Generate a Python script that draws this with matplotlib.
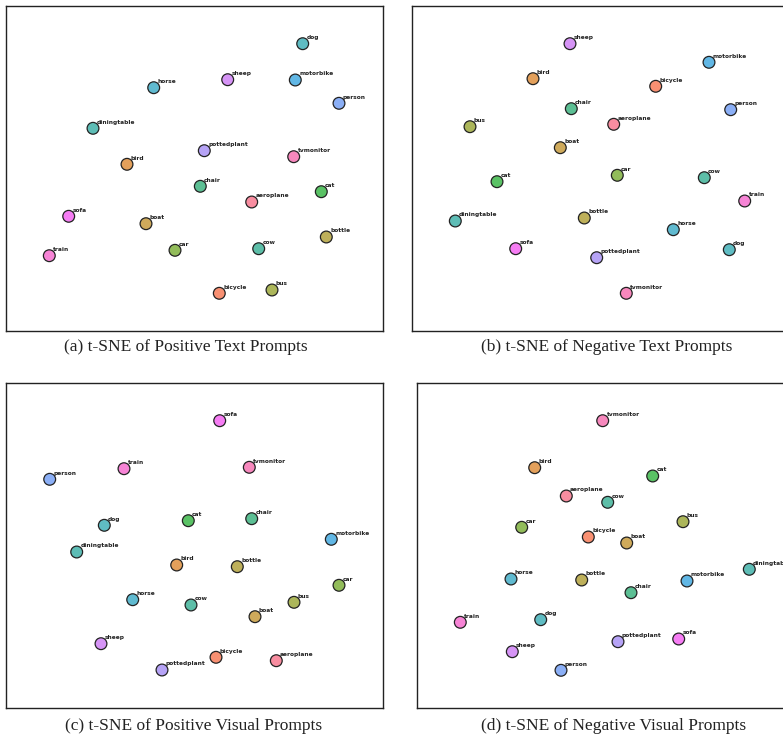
import matplotlib
matplotlib.use("Agg")
import matplotlib.pyplot as plt
import seaborn as sns

classes = ["aeroplane", "bicycle", "bird", "boat", "bottle", "bus", "car", "cat",
           "chair", "cow", "diningtable", "dog", "horse", "motorbike", "person",
           "pottedplant", "sheep", "sofa", "train", "tvmonitor"]

# t-SNE coordinates (arbitrary units), in class order
pos_text_x = [245.7, 213.3, 121.0, 140.0, 320.3, 266.0, 169.0, 315.3, 194.3, 252.7,
              87.0, 296.7, 147.7, 289.3, 333.0, 198.3, 221.7, 62.7, 43.3, 287.7]
pos_text_y = [129.0, 37.7, 166.7, 107.3, 94.0, 41.0, 80.7, 139.3, 144.7, 82.3,
              202.7, 287.3, 243.3, 251.0, 227.7, 180.3, 251.3, 114.7, 75.3, 174.3]

neg_text_x = [202.0, 244.0, 121.3, 148.6, 172.6, 58.3, 205.6, 85.3, 159.6, 292.6,
              43.6, 317.6, 261.6, 297.3, 319.0, 185.0, 158.3, 104.0, 333.0, 214.6]
neg_text_y = [206.7, 244.7, 252.3, 183.3, 113.0, 204.3, 155.7, 149.3, 222.3, 153.3,
              110.0, 81.3, 101.3, 268.7, 221.3, 73.3, 287.3, 82.3, 130.0, 37.7]

pos_vis_x = [270.3, 210.0, 170.7, 249.0, 231.3, 288.0, 333.0, 182.3, 245.7, 185.0,
             70.7, 98.3, 126.7, 325.3, 43.7, 156.0, 95.0, 213.7, 118.0, 243.3]
pos_vis_y = [47.0, 50.4, 142.7, 91.0, 141.0, 105.4, 122.4, 187.0, 189.0, 102.7,
             155.7, 182.4, 108.0, 168.4, 228.4, 37.7, 64.0, 287.0, 239.0, 240.4]

neg_vis_x = [149.6, 171.6, 118.0, 210.0, 165.0, 266.3, 105.0, 236.0, 214.3, 191.0,
             332.6, 124.0, 94.3, 270.3, 144.3, 201.3, 95.6, 262.0, 43.6, 186.0]
neg_vis_y = [211.7, 170.7, 240.0, 164.7, 127.7, 186.0, 180.4, 231.7, 115.0, 205.4,
             138.4, 88.0, 128.7, 126.7, 37.4, 66.0, 56.0, 68.7, 85.4, 287.0]

captions = ["(a) t-SNE of Positive Text Prompts",
            "(b) t-SNE of Negative Text Prompts",
            "(c) t-SNE of Positive Visual Prompts",
            "(d) t-SNE of Negative Visual Prompts"]

W, H = 783, 734
fig = plt.figure(figsize=(W / 100, H / 100), dpi=100)
palette = [(r, g, b, 0.8) for (r, g, b) in sns.color_palette("husl", len(classes))]

# axes boxes in pixels: left, top, width, height
boxes = [(6, 6, 377, 325), (411.7, 6, 377, 325),
         (6, 383, 377, 324.7), (416.7, 383, 377, 324.7)]
cap_pos = [(186, 347), (606.7, 347), (193.8, 725.7), (613.7, 725.7)]
datasets = [(pos_text_x, pos_text_y), (neg_text_x, neg_text_y),
            (pos_vis_x, pos_vis_y), (neg_vis_x, neg_vis_y)]

for (l, t, w, h), (xs, ys), cap, (cx, cy) in zip(boxes, datasets, captions, cap_pos):
    ax = fig.add_axes([l / W, 1 - (t + h) / H, w / W, h / H])
    ax.scatter(xs, ys, s=72, c=palette, edgecolors="#222222", linewidths=0.9, zorder=3)
    for name, x, y in zip(classes, xs, ys):
        ax.annotate(name, (x, y), xytext=(2.8, 2.6), textcoords="offset points",
                    fontsize=4.2, fontweight="bold", color="#222222",
                    ha="left", va="bottom", family="DejaVu Sans")
    ax.set_xlim(0, w)
    ax.set_ylim(0, h)
    ax.set_xticks([])
    ax.set_yticks([])
    for sp in ax.spines.values():
        sp.set_color("#222222")
        sp.set_linewidth(1.0)
    fig.text(cx / W, 1 - cy / H, cap, ha="center", va="center",
             fontsize=12.5, family="Liberation Serif", color="#222222")

fig.savefig("out.png", dpi=100)
